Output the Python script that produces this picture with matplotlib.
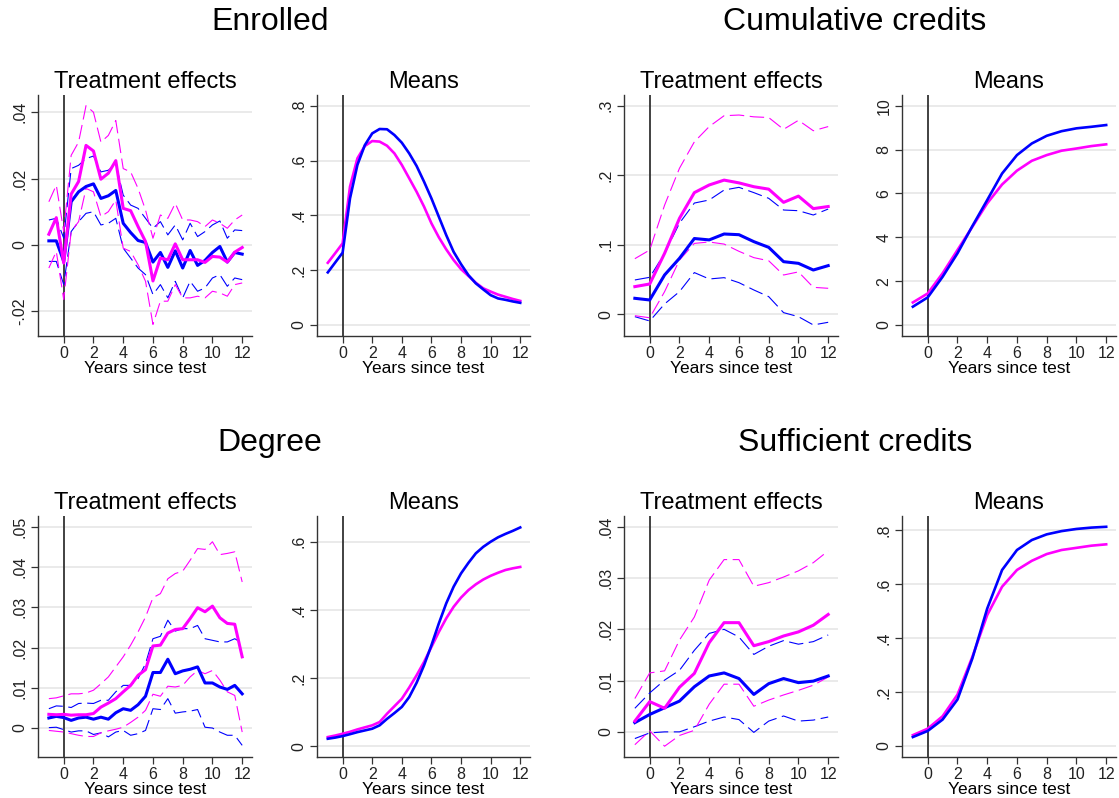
import numpy as np
import matplotlib.pyplot as plt

plt.rcParams['font.family'] = ['Liberation Sans', 'DejaVu Sans']

# ------------------------------------------------------------------
# x grids
half_years = np.arange(-1, 12.01, 0.5)
years = np.arange(-1, 13, 1)

# ------------------------------------------------------------------
# Enrolled: treatment effects (half-year steps)
enr_te_blue = [.0012, .0012, -.005, .013, .016, .0176, .0184, .014, .0148, .0164, .0065, .0037, .0013, .0007,
               -.0052, -.0023, -.0068, -.0018, -.007, -.0017, -.0062, -.0047, -.0023, -.0005, -.0052, -.0023, -.0028]
enr_te_blue_hi = [.0075, .008, .002, .023, .024, .026, .0268, .022, .0225, .0245, .015, .012, .011, .008,
                  .005, .007, .003, .006, .0015, .0065, .0025, .004, .006, .0072, .002, .0045, .0043]
enr_te_blue_lo = [-.005, -.005, -.012, .004, .007, .0095, .01, .006, .0065, .008, -.001, -.004, -.007, -.009,
                  -.015, -.012, -.016, -.011, -.016, -.011, -.014, -.013, -.01, -.009, -.0125, -.01, -.0105]
enr_te_mag = [.0032, .0082, -.0055, .0153, .0191, .030, .0283, .0198, .0216, .0254, .011, .0103, .0055, .001,
              -.0109, -.004, -.0045, .0003, -.0045, -.0045, -.0045, -.0053, -.0035, -.0037, -.0052, -.0022, -.0008]
enr_te_mag_hi = [.013, .018, .004, .027, .031, .042, .040, .031, .033, .0375, .023, .022, .017, .0105,
                 .002, .009, .008, .0125, .0075, .0075, .007, .0055, .0075, .0065, .005, .0075, .009]
enr_te_mag_lo = [-.007, -.002, -.0165, .004, .007, .017, .016, .0085, .010, .0135, -.001, -.002, -.006, -.011,
                 -.024, -.017, -.017, -.012, -.016, -.016, -.0155, -.016, -.014, -.0145, -.0155, -.012, -.0115]

# Enrolled: means
enr_mean_blue = [.192, .228, .264, .462, .584, .656, .699, .715, .714, .693, .665, .626, .58, .523,
                 .462, .395, .328, .267, .222, .182, .152, .13, .109, .097, .092, .086, .081]
enr_mean_mag = [.227, .262, .298, .505, .608, .653, .671, .669, .654, .626, .584, .535, .486, .432,
                .371, .32, .276, .237, .204, .179, .154, .134, .122, .111, .103, .095, .088]

# ------------------------------------------------------------------
# Cumulative credits: treatment effects (yearly)
cc_te_blue = [.023, .0206, .0566, .0805, .109, .107, .1155, .1145, .1045, .0963, .0757, .0733, .0637, .070]
cc_te_blue_hi = [.0494, .0532, .0877, .131, .16, .1644, .1787, .1826, .175, .1668, .15, .149, .1428, .1514]
cc_te_blue_lo = [-.0034, -.0096, .0149, .0326, .06, .0508, .0527, .0455, .035, .0254, .0024, -.0034, -.0153, -.0115]
cc_te_mag = [.0398, .0436, .0877, .138, .175, .186, .193, .189, .1835, .18, .161, .170, .152, .155]
cc_te_mag_hi = [.080, .0925, .157, .21, .248, .27, .2856, .2866, .284, .283, .266, .279, .264, .27]
cc_te_mag_lo = [-.002, -.005, .0326, .078, .102, .104, .101, .0906, .0815, .077, .0565, .061, .0388, .0374]

# Cumulative credits: means
cc_mean_blue = [.836, 1.26, 2.2, 3.27, 4.51, 5.7, 6.91, 7.75, 8.28, 8.63, 8.84, 8.97, 9.04, 9.12]
cc_mean_mag = [1.03, 1.44, 2.36, 3.42, 4.48, 5.55, 6.41, 7.04, 7.49, 7.75, 7.95, 8.05, 8.16, 8.24]

# ------------------------------------------------------------------
# Degree: treatment effects (half-year steps)
deg_te_blue = [.0025, .0029, .0026, .0019, .0025, .0027, .0022, .0027, .0022, .0038, .0048, .0044, .0058, .0079,
               .0138, .0138, .0171, .0135, .0142, .0146, .0152, .0112, .0112, .0102, .0096, .0106, .0085]
deg_te_blue_hi = [.0048, .0055, .0054, .0051, .0061, .0062, .0061, .0069, .0069, .009, .0106, .0106, .0123, .016,
                  .0222, .0228, .0268, .0241, .0247, .0247, .0255, .0222, .0218, .0214, .0214, .0222, .0211]
deg_te_blue_lo = [.0001, .0002, -.0004, -.001, -.0007, -.0007, -.0016, -.0012, -.0022, -.001, -.0006, -.0018, -.0014, -.0006,
                  .0048, .0046, .0073, .0037, .004, .0042, .0046, .0002, 0, -.001, -.0018, -.0018, -.0043]
deg_te_mag = [.0034, .0033, .0034, .0032, .0033, .0033, .0036, .0052, .0062, .0073, .009, .0106, .0131, .0145,
              .0204, .0206, .0236, .0245, .0247, .0272, .0299, .0289, .0303, .0274, .026, .0258, .0177]
deg_te_mag_hi = [.0073, .0075, .008, .0085, .0085, .0087, .0094, .011, .0127, .0152, .0177, .0206, .0239, .0276,
                 .0324, .0334, .0371, .0384, .039, .0417, .0446, .0444, .0463, .0431, .0434, .0438, .0363]
deg_te_mag_lo = [-.0006, -.0008, -.001, -.0014, -.0018, -.0021, -.0021, -.0012, -.0007, -.0003, .0002, .0014, .0027, .0044,
                 .0084, .0079, .0104, .0102, .0106, .0127, .0143, .0135, .0143, .0119, .009, .0081, -.001]

# Degree: means
deg_mean_blue = [.0216, .025, .0294, .035, .041, .046, .051, .061, .080, .097, .115, .144, .186, .237,
                 .296, .36, .419, .468, .507, .538, .566, .585, .6, .613, .623, .632, .642]
deg_mean_mag = [.0265, .031, .0363, .042, .049, .055, .061, .0706, .095, .117, .139, .172, .208, .247,
                .291, .335, .375, .409, .436, .458, .475, .489, .5, .509, .517, .522, .526]

# ------------------------------------------------------------------
# Sufficient credits: treatment effects (yearly)
sc_te_blue = [.0018, .0034, .0047, .006, .0088, .0109, .0115, .0104, .0073, .0094, .0104, .0096, .0099, .0109]
sc_te_blue_hi = [.0046, .0076, .0101, .012, .0159, .0192, .02, .0185, .0151, .0167, .0178, .0171, .0176, .0189]
sc_te_blue_lo = [-.0013, -.0002, 0, 0, .001, .0021, .0029, .0024, -.0001, .0021, .0031, .0021, .0023, .0029]
sc_te_mag = [.0021, .0059, .0046, .0087, .0114, .0174, .0213, .0213, .0168, .0176, .0187, .0195, .0208, .0229]
sc_te_mag_hi = [.0065, .0115, .0119, .0179, .0224, .0296, .0336, .0336, .0284, .0291, .0302, .0314, .033, .0353]
sc_te_mag_lo = [-.0025, .0002, -.0028, -.0007, .0003, .0054, .0093, .0093, .005, .0062, .0072, .0081, .0091, .0107]

# Sufficient credits: means
sc_mean_blue = [.033, .0556, .0977, .172, .324, .509, .652, .726, .763, .784, .796, .804, .809, .812]
sc_mean_mag = [.04, .064, .11, .19, .33, .485, .59, .652, .686, .711, .726, .734, .742, .747]

# ------------------------------------------------------------------
BLUE = '#0000ff'
MAG = '#ff00ff'
W, H = 1119, 798

fig = plt.figure(figsize=(W / 100, H / 100), dpi=100)


def make_ax(left, right, top, bottom):
    return fig.add_axes([left / W, 1 - bottom / H, (right - left) / W, (bottom - top) / H])


def style(ax, ylim, yticks, yticklabels, subtitle):
    ax.set_xlim(-1.73, 12.66)
    ax.set_ylim(*ylim)
    ax.set_xticks(range(0, 13, 2))
    ax.set_yticks(yticks)
    ax.set_yticklabels(yticklabels, rotation=90, va='center')
    for s in ['top', 'right']:
        ax.spines[s].set_visible(False)
    for s in ['left', 'bottom']:
        ax.spines[s].set_color('#333333')
        ax.spines[s].set_linewidth(1.0)
    ax.tick_params(axis='both', direction='out', length=5, width=0.9, color='#333333',
                   labelsize=11.5, labelcolor='#222222', pad=2.5)
    ax.grid(axis='y', color='#e8e8e8', lw=1.3)
    ax.set_axisbelow(True)
    ax.axvline(0, color='#333333', lw=1.3, zorder=1.5)
    ax.set_xlabel('Years since test', fontsize=12.5, labelpad=0)
    ax.set_title(subtitle, fontsize=17, pad=5)


def te_panel(ax, x, b, bhi, blo, m, mhi, mlo):
    for y, c in [(bhi, BLUE), (blo, BLUE), (mhi, MAG), (mlo, MAG)]:
        ln, = ax.plot(x, y, color=c, lw=0.8, zorder=2)
        ln.set_dashes((13, 5))
    ax.plot(x, b, color=BLUE, lw=2.2, zorder=3)
    ax.plot(x, m, color=MAG, lw=2.2, zorder=3)


def mean_panel(ax, x, b, m):
    ax.plot(x, m, color=MAG, lw=1.9, zorder=3)
    ax.plot(x, b, color=BLUE, lw=1.9, zorder=3)


top_r = (95, 336)
bot_r = (516, 757)

# Enrolled
ax = make_ax(38, 252, *top_r)
te_panel(ax, half_years, enr_te_blue, enr_te_blue_hi, enr_te_blue_lo, enr_te_mag, enr_te_mag_hi, enr_te_mag_lo)
style(ax, (-.0275, .0452), [-.02, 0, .02, .04], ['-.02', '0', '.02', '.04'], 'Treatment effects')
ax = make_ax(317, 530, *top_r)
mean_panel(ax, half_years, enr_mean_blue, enr_mean_mag)
style(ax, (-.040, .839), [0, .2, .4, .6, .8], ['0', '.2', '.4', '.6', '.8'], 'Means')

# Cumulative credits
ax = make_ax(624, 838, *top_r)
te_panel(ax, years, cc_te_blue, cc_te_blue_hi, cc_te_blue_lo, cc_te_mag, cc_te_mag_hi, cc_te_mag_lo)
style(ax, (-.0312, .3154), [0, .1, .2, .3], ['0', '.1', '.2', '.3'], 'Treatment effects')
ax = make_ax(902, 1116, *top_r)
mean_panel(ax, years, cc_mean_blue, cc_mean_mag)
style(ax, (-.5, 10.49), [0, 2, 4, 6, 8, 10], ['0', '2', '4', '6', '8', '10'], 'Means')

# Degree
ax = make_ax(38, 252, *bot_r)
te_panel(ax, half_years, deg_te_blue, deg_te_blue_hi, deg_te_blue_lo, deg_te_mag, deg_te_mag_hi, deg_te_mag_lo)
style(ax, (-.0072, .0527), [0, .01, .02, .03, .04, .05], ['0', '.01', '.02', '.03', '.04', '.05'], 'Treatment effects')
ax = make_ax(317, 530, *bot_r)
mean_panel(ax, half_years, deg_mean_blue, deg_mean_mag)
style(ax, (-.032, .6756), [0, .2, .4, .6], ['0', '.2', '.4', '.6'], 'Means')

# Sufficient credits
ax = make_ax(624, 838, *bot_r)
te_panel(ax, years, sc_te_blue, sc_te_blue_hi, sc_te_blue_lo, sc_te_mag, sc_te_mag_hi, sc_te_mag_lo)
style(ax, (-.0049, .0421), [0, .01, .02, .03, .04], ['0', '.01', '.02', '.03', '.04'], 'Treatment effects')
ax = make_ax(902, 1116, *bot_r)
mean_panel(ax, years, sc_mean_blue, sc_mean_mag)
style(ax, (-.041, .852), [0, .2, .4, .6, .8], ['0', '.2', '.4', '.6', '.8'], 'Means')

# group titles
for txt, x, y in [('Enrolled', 270, 22), ('Cumulative credits', 855, 22),
                  ('Degree', 270, 443), ('Sufficient credits', 855, 443)]:
    fig.text(x / W, 1 - y / H, txt, fontsize=23, ha='center', va='center')

fig.savefig('out.png', dpi=100)
